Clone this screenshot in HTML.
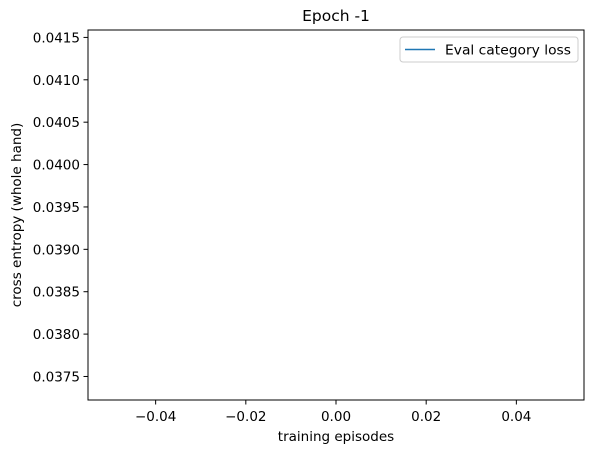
<!DOCTYPE html>
<html><head><meta charset="utf-8"><style>
body{margin:0;background:#fff}
svg text{font-family:"DejaVu Sans","Liberation Sans",sans-serif;fill:#000}
</style></head><body>
<svg id="chart" width="597" height="453" xmlns="http://www.w3.org/2000/svg">
<rect width="597" height="453" fill="#fff"/>
<g id="grid"></g>
<text x="336" y="21" font-size="15.5" text-anchor="middle">Epoch -1</text>
<text x="336" y="441" font-size="13.5" text-anchor="middle">training episodes</text>
<text transform="translate(21,215) rotate(-90)" font-size="13.5" text-anchor="middle">cross entropy (whole hand)</text>
<g id="marks"></g>
<rect x="88" y="30" width="496" height="370" fill="none" stroke="#000" stroke-width="1"/>
<g>
<rect x="400" y="37" width="178" height="25" rx="3" fill="#fff" stroke="#ccc" stroke-width="1"/>
<line x1="405" y1="49.5" x2="435" y2="49.5" stroke="#1f77b4" stroke-width="1.5"/>
<text x="445" y="54.5" font-size="13" textLength="126" lengthAdjust="spacingAndGlyphs">Eval category loss</text>
</g>
</svg>
<script>
const episodes = [0];
const evalLoss = [0.039405];
const xTicks = [-0.04, -0.02, 0.00, 0.02, 0.04];
const xTickLabels = ["\u22120.04", "\u22120.02", "0.00", "0.02", "0.04"];
const yTicks = [0.0375, 0.0380, 0.0385, 0.0390, 0.0395, 0.0400, 0.0405, 0.0410, 0.0415];
const yTickLabels = ["0.0375","0.0380","0.0385","0.0390","0.0395","0.0400","0.0405","0.0410","0.0415"];
const NS="http://www.w3.org/2000/svg";
const L=88,R=584,T=30,B=400;
const xMin=-0.055,xMax=0.055;
const yMid=evalLoss[0], yHalf=0.0021825;
const yMin=yMid-yHalf,yMax=yMid+yHalf;
function sx(v){return L+(v-xMin)/(xMax-xMin)*(R-L);}
function sy(v){return B-(v-yMin)/(yMax-yMin)*(B-T);}
const g=document.getElementById('grid');
function mk(tag,attrs){const e=document.createElementNS(NS,tag);for(const k in attrs)e.setAttribute(k,attrs[k]);return e;}
xTicks.forEach((v,i)=>{
  const x=sx(v);
  const t=mk('line',{x1:x,x2:x,y1:B,y2:B+4.5,stroke:'#000','stroke-width':1});
  
  
  g.appendChild(t);
  const l=mk('text',{x:x,y:B+21,'font-size':13.5,'text-anchor':'middle'});
  l.textContent=xTickLabels[i];
  
  
  g.appendChild(l);
});
yTicks.forEach((v,i)=>{
  const y=sy(v);
  const t=mk('line',{x1:L-4.5,x2:L,y1:y,y2:y,stroke:'#000','stroke-width':1});
  
  
  g.appendChild(t);
  const l=mk('text',{x:L-8,y:y+5,'font-size':13.5,'text-anchor':'end'});
  l.textContent=yTickLabels[i];
  
  
  g.appendChild(l);
});
const m=document.getElementById('marks');
const pts=episodes.map((e,i)=>sx(e)+','+sy(evalLoss[i])).join(' ');
const pl=mk('polyline',{points:pts,fill:'none',stroke:'#1f77b4','stroke-width':1.5});


m.appendChild(pl);
</script>
</body></html>
